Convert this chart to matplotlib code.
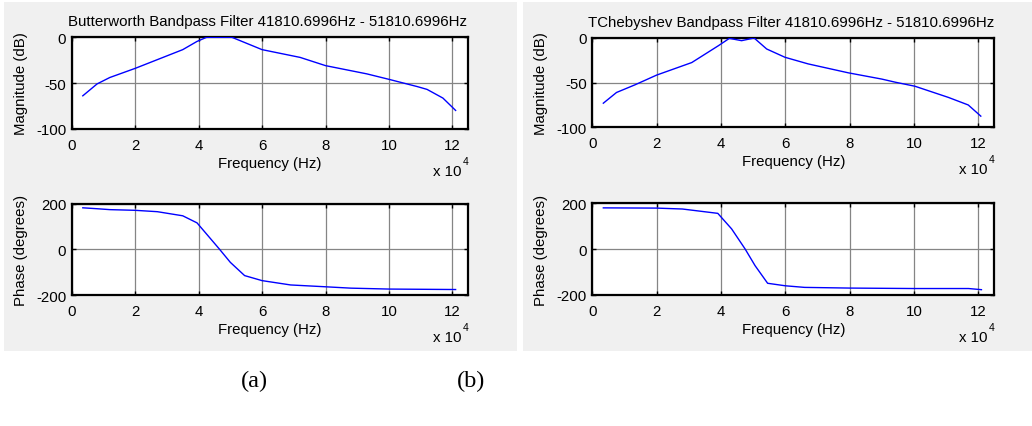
import matplotlib
matplotlib.use("Agg")
import matplotlib.pyplot as plt
from matplotlib.patches import Rectangle

# ---------------- data ----------------
bw_mag_f = [3500, 8000, 12000, 20000, 35000, 39500, 42500, 50500, 60000, 72000,
            80000, 93000, 100000, 109000, 112000, 117000, 121000]
bw_mag_db = [-64, -51, -44, -34, -13.5, -4.5, 0, 0, -13.5, -22,
             -31, -40, -46, -54, -57, -66.5, -80]

bw_ph_f = [3500, 8000, 12000, 20000, 27000, 35000, 39500, 46500, 50000, 54500,
           60000, 69000, 80000, 88000, 100000, 121000]
bw_ph_deg = [182, 178, 174, 171, 165, 147, 116, 2, -57, -115,
             -137, -156, -164, -170, -174, -176]

ch_mag_f = [3400, 7500, 13200, 20000, 30900, 39200, 42600, 46400, 50300, 54200,
            59900, 67100, 79600, 90000, 94200, 100300, 110700, 116900, 120800]
ch_mag_db = [-73, -61, -52.5, -41.5, -27.5, -8.6, -0.4, -3, 0, -12.3,
             -21.6, -29, -39, -46, -49.5, -54, -66.5, -75, -87.5]

ch_ph_f = [3400, 20000, 28000, 39000, 43300, 47500, 50600, 54500, 60000, 66000,
           80000, 100000, 117000, 121000]
ch_ph_deg = [180, 179, 175, 156, 88, 0, -73, -150, -161, -168,
             -171, -173, -173, -178]

x_ticks = [0, 20000, 40000, 60000, 80000, 100000, 120000]
x_ticklabels = ["0", "2", "4", "6", "8", "10", "12"]
mag_ticks = [-100, -50, 0]
mag_ticklabels = ["-100", "-50", "0"]
ph_ticks = [-200, 0, 200]
ph_ticklabels = ["-200", "0", "200"]

title_bw = "Butterworth Bandpass Filter 41810.6996Hz - 51810.6996Hz"
title_ch = "TChebyshev Bandpass Filter 41810.6996Hz - 51810.6996Hz"

# ---------------- layout ----------------
W, H = 1032, 427
fig = plt.figure(figsize=(W / 100, H / 100), dpi=100)
fig.patch.set_facecolor("white")

SANS = ["Liberation Sans", "Arial", "DejaVu Sans"]
FS = 10.8


def fx(px):
    return px / W


def fy(py):
    return 1 - py / H


# gray panels
for (x0, x1) in [(4, 517), (523, 1032)]:
    fig.patches.append(Rectangle((fx(x0), fy(352)), fx(x1) - fx(x0), fy(3) - fy(352),
                                 transform=fig.transFigure, facecolor="#f0f0f0",
                                 edgecolor="none", zorder=-10))


def make_axes(x0, x1, y0, y1, f, v, yticks, yticklabels, ylim, ylabel, title=None):
    ax = fig.add_axes([fx(x0), fy(y1), fx(x1) - fx(x0), fy(y0) - fy(y1)])
    ax.set_zorder(5)
    ax.set_facecolor("white")
    ax.plot(f, v, color="#0000ff", lw=1.0, zorder=3)
    ax.set_xlim(0, 125000)
    ax.set_ylim(*ylim)
    ax.set_xticks(x_ticks)
    ax.set_xticklabels(x_ticklabels, family=SANS, fontsize=FS)
    ax.set_yticks(yticks)
    ax.set_yticklabels(yticklabels, family=SANS, fontsize=FS)
    ax.tick_params(direction="in", top=True, right=True, length=3, width=1,
                   colors="black")
    ax.tick_params(axis="x", pad=6.5)
    ax.tick_params(axis="y", pad=4)
    ax.grid(True, color="#858585", lw=0.9, zorder=1)
    for s in ax.spines.values():
        s.set_linewidth(1.6)
        s.set_color("black")
    xc = (x0 + x1) / 2
    fig.text(fx(xc), fy(y1 + 34), "Frequency (Hz)", family=SANS, fontsize=FS,
             ha="center", va="center")
    fig.text(fx(x0 - 51), fy((y0 + y1) / 2), ylabel, family=SANS, fontsize=FS,
             rotation=90, ha="center", va="center")
    fig.text(fx(x1 - 21), fy(y1 + 42), "x 10", family=SANS, fontsize=FS,
             ha="center", va="center")
    fig.text(fx(x1 - 3), fy(y1 + 32), "4", family=SANS, fontsize=7.5,
             ha="center", va="center")
    if title:
        fig.text(fx(xc - 2), fy(y0 - 16), title, family=SANS, fontsize=FS,
                 ha="center", va="center")
    return ax


make_axes(71.7, 468.3, 38.3, 129.7, bw_mag_f, bw_mag_db, mag_ticks, mag_ticklabels,
          (-100, 0), "Magnitude (dB)", title_bw)
make_axes(71.7, 468.3, 204.7, 296.0, bw_ph_f, bw_ph_deg, ph_ticks, ph_ticklabels,
          (-200, 200), "Phase (degrees)")
make_axes(592.4, 994.3, 39.0, 128.3, ch_mag_f, ch_mag_db, mag_ticks, mag_ticklabels,
          (-100, 0), "Magnitude (dB)", title_ch)
make_axes(592.4, 994.3, 204.3, 295.7, ch_ph_f, ch_ph_deg, ph_ticks, ph_ticklabels,
          (-200, 200), "Phase (degrees)")

SERIF = ["Liberation Serif", "Times New Roman", "DejaVu Serif"]
fig.text(fx(254), fy(381), "(a)", family=SERIF, fontsize=17.5, ha="center", va="center")
fig.text(fx(471), fy(381), "(b)", family=SERIF, fontsize=17.5, ha="center", va="center")

fig.savefig("out.png", dpi=100, facecolor="white")
